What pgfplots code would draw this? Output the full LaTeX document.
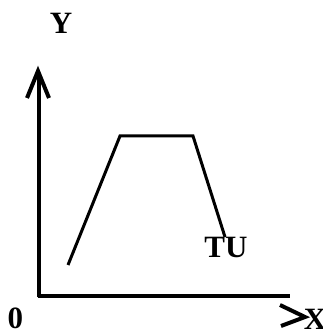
\documentclass[border=0pt]{standalone}
\usepackage{pgfplots}
\pgfplotsset{compat=1.18}
\usepackage{fontspec}
\setmainfont{Liberation Serif}
\begin{document}
\begin{tikzpicture}
\begin{axis}[name=ax, hide axis, scale only axis, width=323pt, height=335pt,
  xmin=0, xmax=323, ymin=0, ymax=335, enlargelimits=false, clip=false]
% axes
\addplot[black, line width=3.5pt] coordinates {(39,37.5) (39,262)};
\addplot[black, line width=3.5pt] coordinates {(37.5,39) (290,39)};
% y arrow head
\addplot[black, line width=4pt, miter limit=20, line join=miter] coordinates {(27,237) (38,264) (49,237)};
% x arrow chevron
\addplot[black, line width=4pt, line join=miter, miter limit=20] coordinates {(280,30) (305,18) (281,9)};
% trapezoid line
\addplot[black, line width=3pt, line join=miter] coordinates {(68,70) (120,199) (193,199) (225,98)};
\node[font=\fontsize{31}{31}\selectfont\bfseries] at (axis cs:61,312) {Y};
\node[font=\fontsize{31}{31}\selectfont\bfseries] at (axis cs:226,88) {TU};
\node[font=\fontsize{31}{31}\selectfont\bfseries] at (axis cs:15.5,17) {0};
\node[overlay, font=\fontsize{31}{31}\selectfont\bfseries] at (axis cs:315,16) {X};
\end{axis}
\pgfresetboundingbox
\path (ax.south west) rectangle (ax.north east);
\end{tikzpicture}
\end{document}
